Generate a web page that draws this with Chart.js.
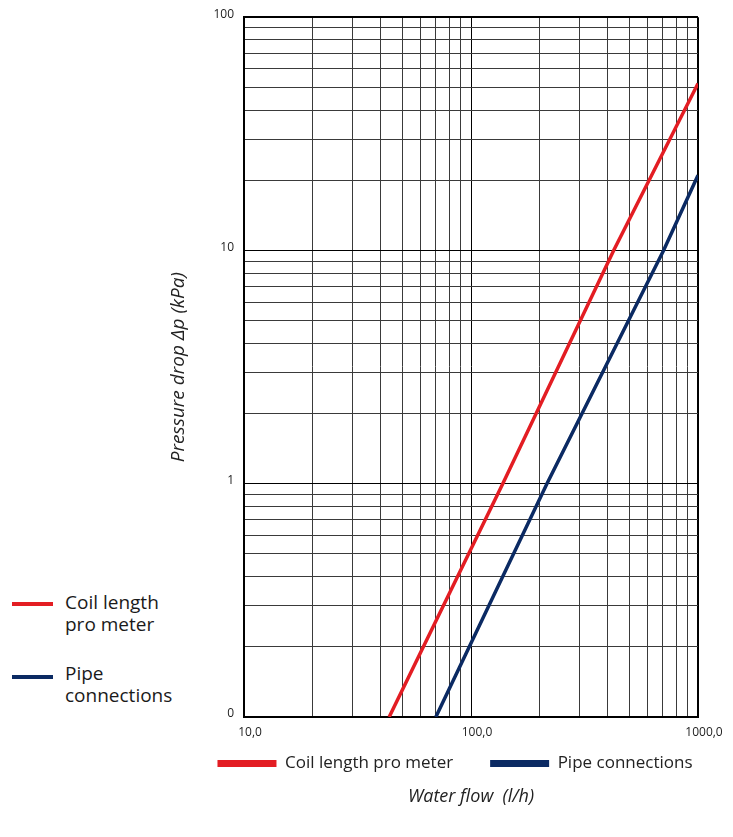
<!DOCTYPE html>
<html>
<head>
<meta charset="utf-8">
<script src="https://cdn.jsdelivr.net/npm/chart.js@4.4.1/dist/chart.umd.min.js"></script>
<style>
  html, body { margin: 0; padding: 0; background: #fff; overflow: hidden; width: 733px; height: 837px; }
  #wrap { position: absolute; left: 160px; top: 0; width: 590px; height: 837px; }
  .side { position: absolute; font-family: 'Open Sans', sans-serif; font-size: 19px; line-height: 22px; color: #1a1a1a; }
  .sw { position: absolute; height: 4px; width: 41px; left: 12px; }
</style>
</head>
<body>
<div class="sw" style="top:602px;background:#e31d23"></div>
<div class="side" style="left:65px;top:591px">Coil length<br>pro meter</div>
<div class="sw" style="top:675px;background:#0b2a63"></div>
<div class="side" style="left:65px;top:662px">Pipe<br>connections</div>
<div id="wrap"><canvas id="c"></canvas></div>
<script>
// ---- data ----
const seriesNames = ['Coil length pro meter', 'Pipe connections'];
const coilFlow = [43.6, 138, 425, 1000];
const coilDrop = [0.1, 1, 10, 52];
const pipeFlow = [70, 216, 705, 1000];
const pipeDrop = [0.1, 1, 10, 21];

const xGridValues = [10,20,30,40,50,60,70,80,90,100,200,300,400,500,600,700,800,900,1000];
const yGridValues = [0.1,0.2,0.3,0.4,0.5,0.6,0.7,0.8,0.9,1,2,3,4,5,6,7,8,9,10,20,30,40,50,60,70,80,90,100];
const xLabelValues = [10, 100, 1000];
const xLabelTexts = ['10,0', '100,0', '1000,0'];
const yLabelValues = [0.1, 1, 10, 100];
const yLabelTexts = ['0', '1', '10', '100'];

const xTitle = 'Water flow  (l/h)';
const yTitle = 'Pressure drop \u0394p (kPa)';

const colors = ['#e31d23', '#0b2a63'];

function pts(xs, ys) { return xs.map((x, i) => ({x: x, y: ys[i]})); }
function labelFor(v, vals, texts) {
  for (let i = 0; i < vals.length; i++) if (Math.abs(v - vals[i]) / vals[i] < 1e-6) return texts[i];
  return '';
}
function isDecade(v) { const l = Math.log10(v); return Math.abs(l - Math.round(l)) < 1e-6; }

const FONT = "'Open Sans', sans-serif";

new Chart(document.getElementById('c'), {
  type: 'line',
  data: {
    datasets: [
      { label: seriesNames[0], data: pts(coilFlow, coilDrop), borderColor: colors[0], backgroundColor: colors[0],
        borderWidth: 3.5, pointRadius: 0, fill: false, tension: 0 },
      { label: seriesNames[1], data: pts(pipeFlow, pipeDrop), borderColor: colors[1], backgroundColor: colors[1],
        borderWidth: 3.5, pointRadius: 0, fill: false, tension: 0 }
    ]
  },
  options: {
    responsive: true,
    maintainAspectRatio: false,
    animation: false,
    events: [],
    layout: { padding: { top: 16, right: 0, bottom: 0, left: 0 } },
    scales: {
      x: {
        type: 'logarithmic', min: 10, max: 1000, position: 'bottom',
        afterBuildTicks: s => { s.ticks = xGridValues.map(v => ({value: v})); },
        afterFit: s => { s.height = 1; s.paddingRight = 52; },
        ticks: {
          autoSkip: false, maxRotation: 0, minRotation: 0, mirror: true, padding: -23, labelOffset: 6,
          color: '#222', font: { family: FONT, size: 12 },
          callback: v => labelFor(v, xLabelValues, xLabelTexts)
        },
        grid: {
          drawTicks: false,
          color: c => (c.tick && isDecade(c.tick.value)) ? '#000' : '#3a3a3a',
          lineWidth: c => (c.tick && c.tick.value === 1000) ? 2 : 1
        },
        border: { display: true, color: '#000', width: 2 },
        title: { display: false }
      },
      y: {
        type: 'logarithmic', min: 0.1, max: 100, position: 'left',
        afterBuildTicks: s => { s.ticks = yGridValues.map(v => ({value: v})); },
        afterFit: s => { s.width = 84; },
        ticks: {
          autoSkip: false, padding: 10, labelOffset: -3,
          color: '#222', font: { family: FONT, size: 12 },
          callback: v => labelFor(v, yLabelValues, yLabelTexts)
        },
        grid: {
          drawTicks: false,
          color: c => (c.tick && isDecade(c.tick.value)) ? '#000' : '#3a3a3a',
          lineWidth: c => (c.tick && c.tick.value === 100) ? 2 : 1
        },
        border: { display: true, color: '#000', width: 2 },
        title: {
          display: true, text: yTitle, color: '#222',
          font: { family: FONT, size: 19, style: 'italic', weight: 'normal' },
          padding: { top: 7, bottom: 0 }
        }
      }
    },
    plugins: {
      legend: {
        display: true, position: 'bottom', align: 'center',
        labels: {
          boxWidth: 59, boxHeight: 7, padding: 37, color: '#222',
          font: { family: FONT, size: 17 },
          generateLabels: chart => Chart.defaults.plugins.legend.labels.generateLabels(chart)
            .map(l => Object.assign(l, { lineWidth: 0, fillStyle: colors[l.datasetIndex], strokeStyle: colors[l.datasetIndex] }))
        }
      },
      title: {
        display: true, position: 'bottom', align: 'center', fullSize: false,
        text: xTitle, color: '#222',
        font: { family: FONT, size: 18, style: 'italic', weight: 'normal' },
        padding: { top: 4.2, bottom: 29.2 }
      },
      tooltip: { enabled: false }
    }
  }
});
</script>
</body>
</html>
